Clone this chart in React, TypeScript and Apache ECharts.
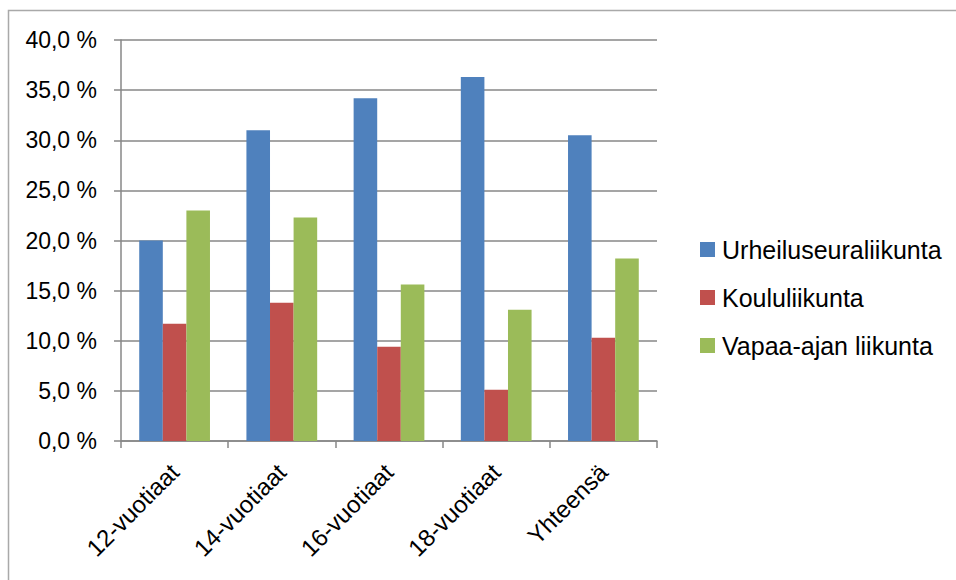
import React, { useEffect, useRef } from "react";
import * as echarts from "echarts";

const categories = ["12-vuotiaat", "14-vuotiaat", "16-vuotiaat", "18-vuotiaat", "Yhteensä"];
const seriesNames = ["Urheiluseuraliikunta", "Koululiikunta", "Vapaa-ajan liikunta"];
const urheiluseura = [20.0, 31.0, 34.2, 36.3, 30.5];
const koulu = [11.7, 13.8, 9.4, 5.1, 10.3];
const vapaaAika = [23.0, 22.3, 15.6, 13.1, 18.2];
const colors = ["#4F81BD", "#C0504D", "#9BBB59"];

const FONT = "'Liberation Sans', Arial, sans-serif";

export default function App() {
  const ref = useRef<HTMLDivElement>(null);
  useEffect(() => {
    if (!ref.current) return;
    const chart = echarts.init(ref.current, null, { renderer: "svg" });
    const data = [urheiluseura, koulu, vapaaAika];
    chart.setOption({
      animation: false,
      backgroundColor: "#ffffff",
      textStyle: { fontFamily: FONT },
      graphic: [
        {
          type: "rect",
          shape: { x: 8.5, y: 10.5, width: 1200, height: 1000 },
          style: { fill: "none", stroke: "#a9a9a9", lineWidth: 1.5 },
          silent: true,
        },
      ],
      grid: { left: 121, right: 299, top: 40, bottom: 139, containLabel: false },
      legend: {
        orient: "vertical",
        left: 700,
        top: 237,
        padding: 0,
        itemWidth: 15,
        itemHeight: 15,
        itemGap: 23,
        icon: "rect",
        data: seriesNames,
        textStyle: {
          fontFamily: FONT,
          fontSize: 25,
          lineHeight: 25,
          color: "#000",
          padding: [0, 0, 0, 2],
        },
      },
      xAxis: {
        type: "category",
        data: categories,
        axisLine: { lineStyle: { color: "#878787", width: 1.5 } },
        axisTick: { show: true, length: 7, alignWithLabel: false, lineStyle: { color: "#878787", width: 1.5 } },
        axisLabel: {
          rotate: 45,
          margin: 27,
          interval: 0,
          align: "right",
          verticalAlign: "middle",
          fontFamily: FONT,
          fontSize: 24,
          color: "#000",
        },
      },
      yAxis: {
        type: "value",
        min: 0,
        max: 40,
        interval: 5,
        axisLine: { show: true, lineStyle: { color: "#878787", width: 1.5 } },
        axisTick: { show: true, length: 7, lineStyle: { color: "#878787", width: 1.5 } },
        splitLine: { show: true, lineStyle: { color: "#878787", width: 1.5 } },
        axisLabel: {
          margin: 24,
          fontFamily: FONT,
          fontSize: 23,
          color: "#000",
          formatter: (v: number) => v.toFixed(1).replace(".", ",") + " %",
        },
      },
      series: seriesNames.map((name, i) => ({
        name,
        type: "bar",
        data: data[i],
        barGap: "0%",
        barCategoryGap: "34%",
        itemStyle: { color: colors[i] },
      })),
    });
    return () => chart.dispose();
  }, []);
  return (
    <div
      ref={ref}
      style={{ position: "fixed", left: 0, top: 0, width: 956, height: 580, background: "#fff" }}
    />
  );
}
